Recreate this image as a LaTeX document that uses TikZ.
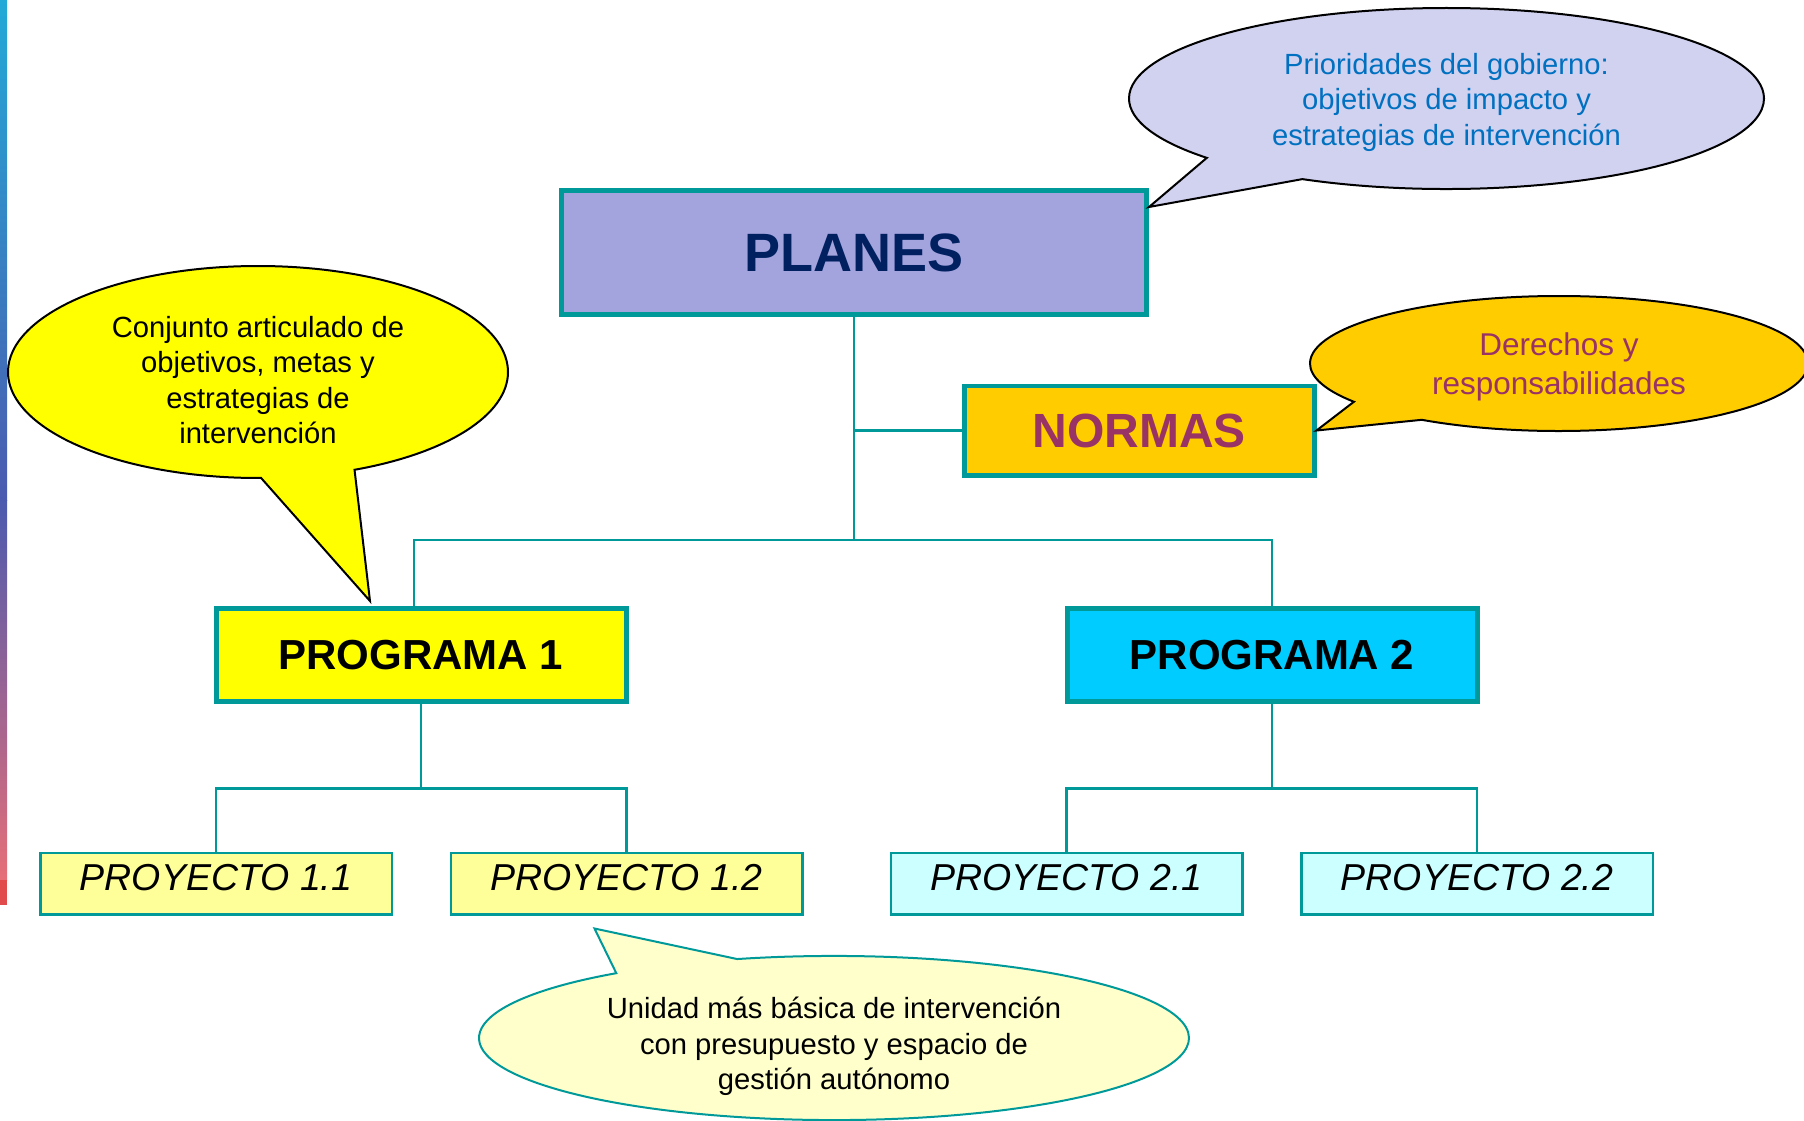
\documentclass[tikz,border=0pt]{standalone}
\usepackage{fontspec}
\setmainfont{Liberation Sans}
\usetikzlibrary{calc, shapes, shapes.callouts, positioning}

\definecolor{lineteal}{RGB}{0,153,153}
\definecolor{planfill}{RGB}{163,163,222}
\definecolor{plantext}{RGB}{0,32,96}
\definecolor{normfill}{RGB}{255,204,0}
\definecolor{normtext}{RGB}{153,51,102}
\definecolor{prog1fill}{RGB}{255,255,0}
\definecolor{prog2fill}{RGB}{0,204,255}
\definecolor{proj1fill}{RGB}{255,255,153}
\definecolor{proj2fill}{RGB}{204,255,255}
\definecolor{govfill}{RGB}{209,209,240}
\definecolor{govtext}{RGB}{0,112,192}
\definecolor{unitfill}{RGB}{255,255,204}
\definecolor{stripa}{RGB}{35,170,215}
\definecolor{stripb}{RGB}{75,90,175}
\definecolor{stripc}{RGB}{230,110,120}
\definecolor{stripd}{RGB}{225,75,75}

\begin{document}
\begin{tikzpicture}[x=1pt,y=-1pt,node distance=0pt]

\tikzstyle{orgbox}=[rectangle,draw=lineteal,align=center];
\tikzstyle{plan}=[orgbox,line width=5pt,fill=planfill,text=plantext,font=\fontsize{54}{60}\selectfont\bfseries,minimum width=585pt,minimum height=124pt];
\tikzstyle{norma}=[orgbox,line width=4.5pt,fill=normfill,text=normtext,font=\fontsize{48}{54}\selectfont\bfseries,minimum width=350pt,minimum height=89.5pt];
\tikzstyle{programa}=[orgbox,line width=5pt,font=\fontsize{42}{48}\selectfont\bfseries,minimum width=410pt,minimum height=93pt];
\tikzstyle{proyecto}=[orgbox,line width=2.5pt,font=\fontsize{37.5}{42}\selectfont\itshape,inner ysep=2pt,text depth=12pt,minimum width=351.5pt,minimum height=61.5pt];
\tikzstyle{link}=[draw=lineteal,line width=2.6pt];
\tikzstyle{bubble}=[ellipse callout,draw=black,line width=2pt,inner sep=0pt,outer sep=0pt,align=center,callout pointer arc=22,font=\fontsize{29.2}{35.5}\selectfont];

\useasboundingbox (0,0) rectangle (1804,1121);

% strip on the left edge
\shade[top color=stripa, bottom color=stripb] (0,0) rectangle (7,500);
\shade[top color=stripb, bottom color=stripc] (0,500) rectangle (7,880);
\fill[stripd] (0,880) rectangle (7,905);

% boxes
\node(PLANES) [plan] at (854,252.5) {PLANES};
\coordinate[below=113.5pt of PLANES] (TEE);
\coordinate[below=223pt of PLANES] (HUB);
\node(NORMAS) [norma, right=108pt of TEE] {NORMAS};
\node(PROG1) [programa, fill=prog1fill, below=289pt of PLANES, xshift=-433pt] {PROGRAMA 1};
\node(PROG2) [programa, fill=prog2fill, right=436pt of PROG1] {PROGRAMA 2};
\node(P11) [proyecto, fill=proj1fill, below=147.5pt of PROG1.south west, xshift=2.5pt] {PROYECTO 1.1};
\node(P12) [proyecto, fill=proj1fill, below=147.5pt of PROG1.south east, xshift=-2pt] {PROYECTO 1.2};
\node(P21) [proyecto, fill=proj2fill, below=147.5pt of PROG2.south west, xshift=2pt] {PROYECTO 2.1};
\node(P22) [proyecto, fill=proj2fill, below=147.5pt of PROG2.south east, xshift=-2.5pt] {PROYECTO 2.2};
\coordinate[below=84.7pt of PROG1] (BUS1);
\coordinate[below=84.7pt of PROG2] (BUS2);

% connectors
\draw[link] (PLANES) -- (HUB);
\draw[link] (TEE) -- (NORMAS);
\draw[link] ([xshift=-7pt]PROG1.north) |- (HUB) -| (PROG2.north);
\draw[link] (PROG1) -- (BUS1);
\draw[link] (P11) |- (BUS1) -| (P12);
\draw[link] (PROG2) -- (BUS2);
\draw[link] (P21) |- (BUS2) -| (P22);

% callouts
\node(GOBIERNO) [bubble, fill=govfill, text=govtext, minimum width=635pt, minimum height=181pt,
  callout absolute pointer={([yshift=-19pt]PLANES.north east)}] at (1446.5,98.5)
  {\rule{0pt}{28.5pt}Prioridades del gobierno:\\objetivos de impacto y\\estrategias de intervención};
\node(CONJUNTO) [bubble, fill=prog1fill, minimum width=500pt, minimum height=212pt,
  callout absolute pointer={([xshift=-51pt,yshift=5pt]PROG1.north)}] at (258,372)
  {\rule{0pt}{37pt}Conjunto articulado de\\objetivos, metas y\\estrategias de\\intervención};
\node(DERECHOS) [bubble, fill=normfill, text=normtext, font=\fontsize{31.5}{39}\selectfont, minimum width=498pt, minimum height=135pt,
  callout absolute pointer={(NORMAS.east)}] at (1559,363.5)
  {\rule{0pt}{30pt}Derechos y\\responsabilidades};
\node(UNIDAD) [bubble, draw=lineteal, fill=unitfill, minimum width=710pt, minimum height=164pt,
  callout absolute pointer={([xshift=-32pt,yshift=-13pt]P12.south)}] at (834,1038)
  {\rule{0pt}{39pt}Unidad más básica de intervención\\con presupuesto y espacio de\\gestión autónomo};

\end{tikzpicture}
\end{document}
